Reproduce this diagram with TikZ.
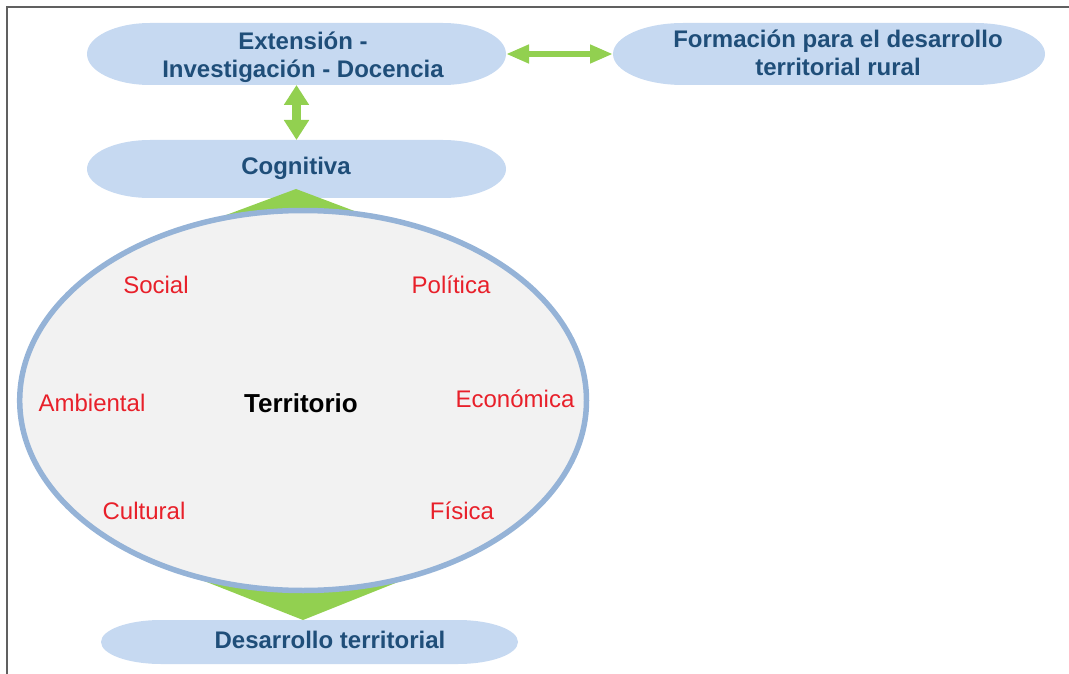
\documentclass[tikz,border=0pt]{standalone}
\usepackage{fontspec}
\setmainfont{Liberation Sans}
\usetikzlibrary{arrows.meta,shapes.geometric}
\definecolor{pillfill}{HTML}{C6D9F1}
\definecolor{pilltext}{HTML}{1F4E79}
\definecolor{lbl}{HTML}{E8202A}
\definecolor{grn}{HTML}{92D050}
\definecolor{ellfill}{HTML}{F2F2F2}
\definecolor{ellline}{HTML}{95B3D7}
\definecolor{framec}{HTML}{606060}
% cx, cy, width, height, end x-radius
\newcommand\pillpath[5]{\fill[pillfill] ({#1-#3/2+#5},{#2-#4/2}) -- ({#1+#3/2-#5},{#2-#4/2}) arc[start angle=-90,end angle=90,x radius=#5,y radius=#4/2] -- ({#1-#3/2+#5},{#2+#4/2}) arc[start angle=90,end angle=270,x radius=#5,y radius=#4/2] -- cycle;}
\tikzset{
  pillbox/.style={rectangle, inner sep=0pt, outer sep=0pt},
  bluetxt/.style={text=pilltext, font=\bfseries\fontsize{24}{28}\selectfont, align=center, inner sep=0pt},
  redtxt/.style={text=lbl, font=\fontsize{24}{28}\selectfont, inner sep=0pt, anchor=base},
  garrow/.style={draw=grn},
  frameline/.style={draw=framec, line width=1.3pt}
}
\begin{document}
\begin{tikzpicture}[x=1pt,y=-1pt]
\path[use as bounding box] (0,0) rectangle (1069,674);
\draw[frameline] (1069,7) -- (7,7) -- (7,674);
% pill backgrounds
\pillpath{296.5}{54}{419}{62}{63}
\pillpath{829}{54}{432}{62}{70}
\pillpath{296.5}{169}{419}{58}{63}
\pillpath{309.5}{642}{417}{44}{60}
% anchor nodes for the pills
\node[pillbox, minimum width=419pt, minimum height=62pt] (ext) at (296.5,54) {};
\node[pillbox, minimum width=432pt, minimum height=62pt] (form) at (829,54) {};
\node[pillbox, minimum width=419pt, minimum height=58pt] (cog) at (296.5,169) {};
\node[pillbox, minimum width=417pt, minimum height=44pt] (desa) at (309.5,642) {};
% arrows
\draw[garrow, line width=6pt, {Triangle[length=23pt,width=17.5pt]}-{Triangle[length=23pt,width=17.5pt]}] (ext.east) -- (form.west);
\draw[garrow, line width=9pt, {Triangle[length=20pt,width=24pt]}-{Triangle[length=20pt,width=24pt]}] (ext.south) -- (cog.north);
% green wedges
\fill[grn] (296,189) -- (210,221) -- (303,400) -- (365,215) -- cycle;
\fill[grn] (303,620) -- (180,571.5) -- (303,400) -- (418,574) -- cycle;
% territory ellipse
\node[ellipse, draw=ellline, fill=ellfill, line width=5.5pt, minimum width=566.8pt, minimum height=380pt, inner sep=0pt] (terr) at (303.1,400.5) {};
% texts
\node[bluetxt] (extT) at (303,57) {Extensión -\\Investigación - Docencia};
\node[bluetxt] (formT) at (838,53) {Formación para el desarrollo\\territorial rural};
\node[bluetxt, anchor=base] (cogT) at (296,175) {Cognitiva};
\node[bluetxt, anchor=base] (desaT) at (330,648) {Desarrollo territorial};
\node[anchor=base, font=\bfseries\fontsize{26}{30}\selectfont, inner sep=0pt] (terrT) at (301,412) {Territorio};
\node[redtxt] (social) at (156,293) {Social};
\node[redtxt] (politica) at (451,293) {Política};
\node[redtxt] (ambiental) at (92,411) {Ambiental};
\node[redtxt] (economica) at (515,407) {Económica};
\node[redtxt] (cultural) at (144,519) {Cultural};
\node[redtxt] (fisica) at (462,519) {Física};
\end{tikzpicture}
\end{document}
